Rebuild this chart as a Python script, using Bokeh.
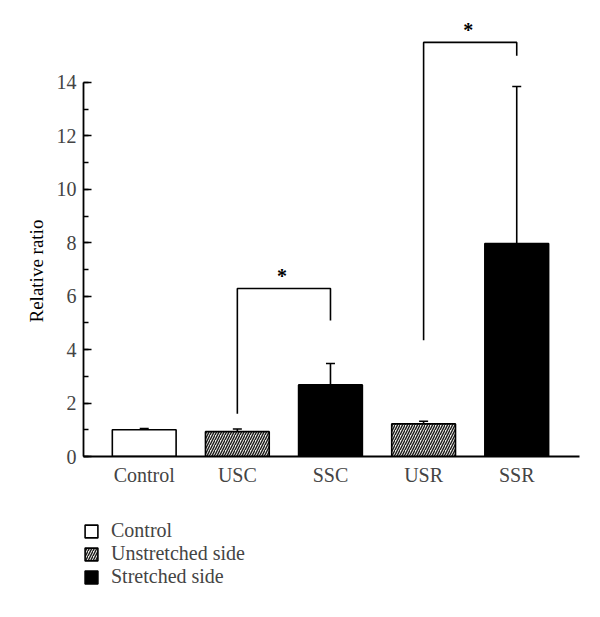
import numpy as np
from bokeh.plotting import figure
from bokeh.layouts import column
from bokeh.models import (ColumnDataSource, Range1d, FixedTicker, Whisker, TeeHead,
                          Legend, LegendItem, Title)
from bokeh.core.properties import value
from bokeh.embed import file_html
from bokeh.resources import INLINE

# ---- data ----
categories = ["Control", "USC", "SSC", "USR", "SSR"]
groups = ["Control", "Unstretched side", "Stretched side", "Unstretched side", "Stretched side"]
means = [1.0, 0.93, 2.68, 1.22, 7.97]
errors = [0.05, 0.10, 0.80, 0.10, 5.88]

# significance brackets: (left category, right category, left foot, top, right foot)
brackets_left = ["USC", "USR"]
brackets_right = ["SSC", "SSR"]
brackets_left_foot = [1.6, 4.35]
brackets_top = [6.29, 15.5]
brackets_right_foot = [5.09, 15.0]
star_labels = ["*", "*"]

y_ticks = [0, 2, 4, 6, 8, 10, 12, 14]
y_label = "Relative ratio"
legend_labels = ["Control", "Unstretched side", "Stretched side"]

FONT = "Liberation Serif"

pos = {c: i for i, c in enumerate(categories)}
x = np.arange(len(categories), dtype=float)

p = figure(width=584, height=496, output_backend="svg", toolbar_location=None,
           x_range=Range1d(-0.652, len(categories) - 1 + 0.674),
           y_range=Range1d(0, 16.32),
           min_border_left=83, min_border_right=5, min_border_top=20,
           min_border_bottom=40, outline_line_color=None)
p.grid.visible = False

styles = {
    "Control": dict(fill_color="white", hatch_pattern=None),
    "Unstretched side": dict(fill_color="#eeede8", hatch_pattern="/"),
    "Stretched side": dict(fill_color="black", hatch_pattern=None),
}

def bar_style(g):
    st = styles[g]
    kw = dict(fill_color=st["fill_color"], line_color="black", line_width=1.6)
    if st["hatch_pattern"]:
        kw.update(hatch_pattern=st["hatch_pattern"], hatch_color="#1a1a1a",
                  hatch_scale=5.0, hatch_weight=1.4)
    return kw

for g in legend_labels:
    idx = [i for i, gg in enumerate(groups) if gg == g]
    src = ColumnDataSource(dict(x=x[idx], top=[means[i] for i in idx]))
    p.vbar(x="x", top="top", bottom=0, width=0.685, source=src, **bar_style(g))

# error bars (upper only)
err_src = ColumnDataSource(dict(x=x, base_low=means,
                                upper=[m + e for m, e in zip(means, errors)]))
w = Whisker(base="x", lower="base_low", upper="upper", source=err_src,
            line_color="black", line_width=1.6,
            upper_head=TeeHead(size=9, line_color="black", line_width=1.6),
            lower_head=None, level="overlay")
p.add_layout(w)

# significance brackets
for lc, rc, lf, top, rf, s in zip(brackets_left, brackets_right, brackets_left_foot,
                                  brackets_top, brackets_right_foot, star_labels):
    xl, xr = pos[lc], pos[rc]
    p.line(x=[xl, xl, xr, xr], y=[lf, top, top, rf], line_color="black", line_width=1.6)
    p.text(x=[(xl + xr) / 2], y=[top], text=[s], text_align="center",
           text_baseline="bottom", y_offset=-1, x_offset=-2, text_font=value(FONT),
           text_font_size="20px", text_font_style="bold", text_color="black")

# axes
p.yaxis.ticker = FixedTicker(ticks=y_ticks, minor_ticks=list(range(0, 15)))
p.yaxis.bounds = (0, 14)
p.yaxis.major_label_text_font = FONT
p.yaxis.major_label_text_font_size = "20px"
p.yaxis.major_label_standoff = 7
p.yaxis.major_tick_in = 8
p.yaxis.major_tick_out = 0
p.yaxis.minor_tick_in = 5
p.yaxis.minor_tick_out = 0
p.yaxis.major_tick_line_width = 1.6
p.yaxis.minor_tick_line_width = 1.6
p.yaxis.axis_line_width = 1.8

# y-axis title, placed along the 0-14 axis span
p.add_layout(Title(text=y_label, align="left", offset=134, standoff=14,
                   text_font=FONT, text_font_size="19px", text_font_style="normal",
                   text_color="black"), "left")

p.xaxis.ticker = FixedTicker(ticks=list(x))
p.xaxis.major_label_overrides = {float(i): c for i, c in enumerate(categories)}
p.xaxis.major_label_text_font = FONT
p.xaxis.major_label_text_font_size = "20px"
p.xaxis.major_label_standoff = 7
p.xaxis.major_tick_in = 0
p.xaxis.major_tick_out = 0
p.xaxis.minor_tick_line_color = None
p.xaxis.axis_line_width = 1.8

# legend figure below the chart
pl = figure(width=584, height=100, output_backend="svg", toolbar_location=None,
            x_range=Range1d(0, 1), y_range=Range1d(0, 1),
            x_axis_location=None, y_axis_location=None,
            min_border=0, outline_line_color=None)
pl.grid.visible = False
dummies = {}
for g in legend_labels:
    dummies[g] = pl.vbar(x=[np.nan], top=[np.nan], bottom=[np.nan], width=0.5, **bar_style(g))

legend = Legend(items=[LegendItem(label=g, renderers=[dummies[g]]) for g in legend_labels],
                location=(0, 8), orientation="vertical",
                label_text_font=FONT, label_text_font_size="20px",
                glyph_width=16, glyph_height=16, label_standoff=12,
                label_height=16, spacing=-1, padding=0, margin=0,
                border_line_color=None, background_fill_alpha=0)
pl.add_layout(legend, "center")

layout = column(p, pl, spacing=0)
open("out.html", "w").write(file_html(layout, INLINE))
